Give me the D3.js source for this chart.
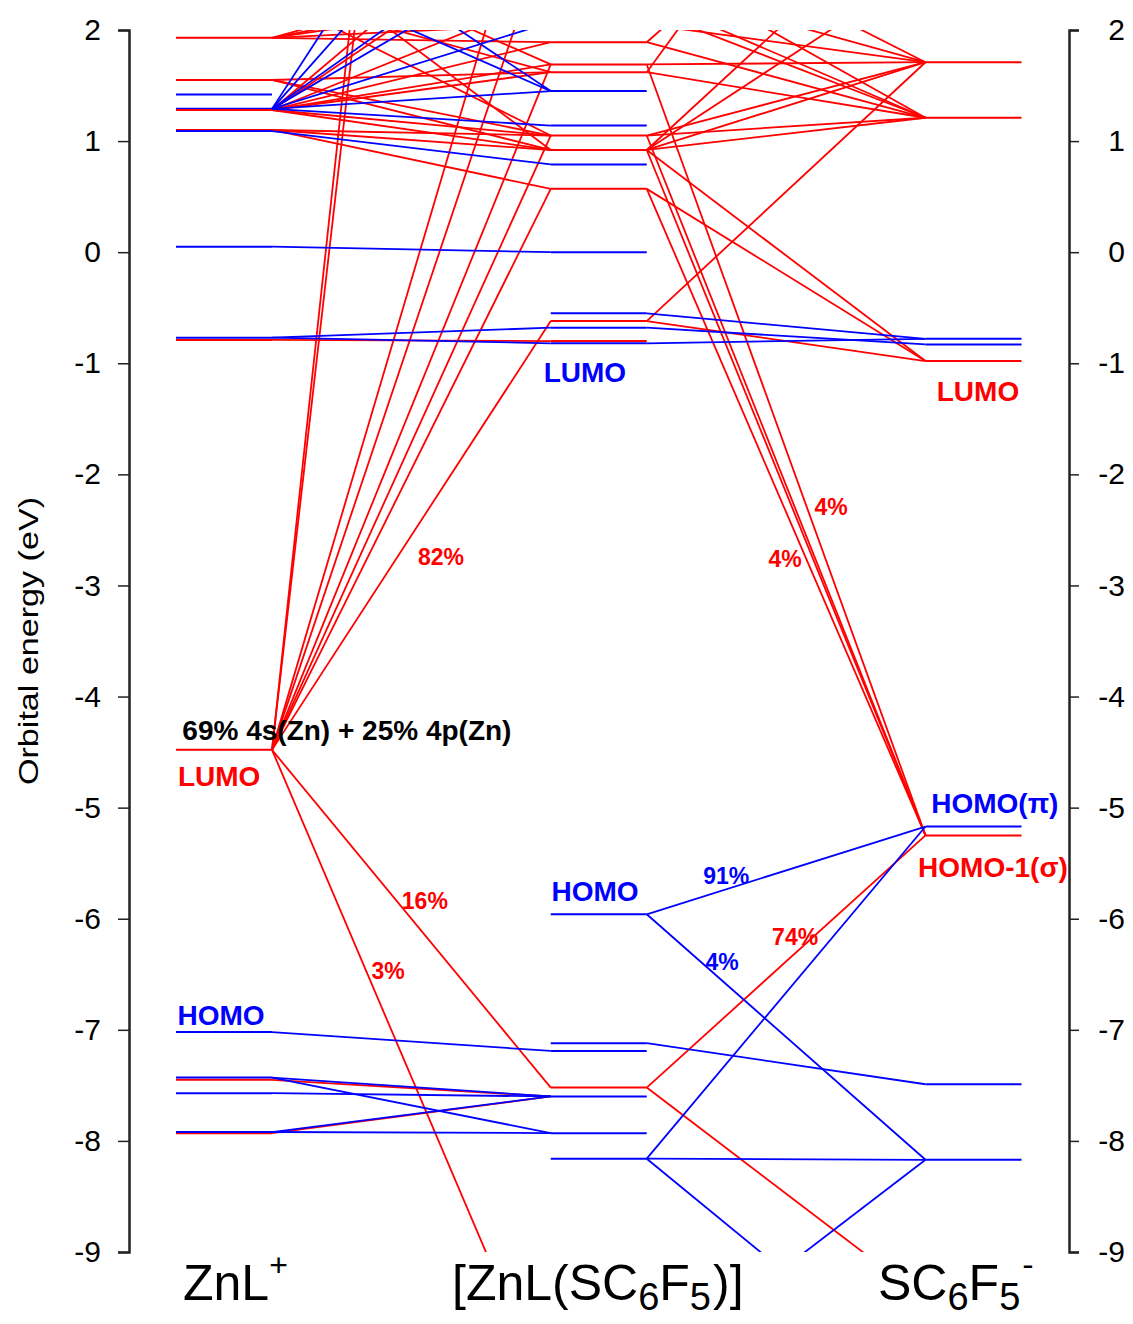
<!DOCTYPE html>
<html>
<head>
<meta charset="utf-8">
<script src="https://cdn.jsdelivr.net/npm/d3@7"></script>
<style>
  body { margin: 0; background: #fff; }
  svg { display: block; font-family: "Liberation Sans", Arial, sans-serif; }
</style>
</head>
<body>
<svg id="chart" width="1133" height="1324"></svg>
<script>
// energy levels (eV), R = red set, B = blue set; values outside [-9, 2] are cut off by the frame
const levelsZnL = [
  [1.93, 'R'], [1.55, 'R'], [1.42, 'B'], [1.29, 'B'], [1.28, 'R'], [1.10, 'R'], [1.09, 'B'],
  [0.05, 'B'], [-0.77, 'B'], [-0.79, 'R'], [-4.48, 'R'], [-7.02, 'B'], [-7.45, 'R'],
  [-7.43, 'B'], [-7.57, 'B'], [-7.93, 'R'], [-7.92, 'B'], [2.55, 'B'], [3.13, 'B'],
  [2.30, 'R'], [2.80, 'R']
];
const levelsComplex = [
  [1.89, 'R'], [1.69, 'R'], [1.62, 'R'], [1.45, 'B'], [1.14, 'B'], [1.05, 'R'], [0.92, 'R'],
  [0.79, 'B'], [0.57, 'R'], [0.00, 'B'], [-0.55, 'B'], [-0.62, 'R'], [-0.68, 'B'],
  [-0.80, 'R'], [-0.82, 'B'], [-5.96, 'B'], [-7.12, 'B'], [-7.19, 'B'], [-7.52, 'R'],
  [-7.60, 'B'], [-7.93, 'B'], [-8.16, 'B'], [-10.37, 'R'], [-10.09, 'B'], [2.29, 'R'],
  [2.98, 'R'], [3.98, 'R'], [17.4, 'R'], [18.8, 'R'], [2.18, 'R'], [2.05, 'R'], [2.07, 'B'],
  [2.76, 'B'], [3.07, 'B'], [4.11, 'B'], [5.15, 'B'], [2.41, 'R'], [2.62, 'R'], [3.40, 'R']
];
const levelsThiolate = [
  [1.71, 'R'], [1.21, 'R'], [-0.78, 'B'], [-0.83, 'B'], [-0.98, 'R'], [-5.17, 'B'],
  [-5.25, 'R'], [-7.49, 'B'], [-8.17, 'B'], [-9.43, 'R'], [-10.22, 'B'], [5.06, 'R'],
  [3.23, 'R'], [2.56, 'R'], [4.10, 'R']
];

// correlation lines: [level index in left column, level index in right column, set]
const linksZnLComplex = [
  [0, 30, 'R'], [0, 36, 'R'], [0, 37, 'R'], [0, 0, 'R'], [0, 24, 'R'],
  [4, 1, 'R'], [4, 2, 'R'], [4, 5, 'R'], [4, 6, 'R'], [4, 0, 'R'], [4, 25, 'R'], [4, 24, 'R'], [4, 38, 'R'],
  [1, 5, 'R'], [1, 6, 'R'], [1, 2, 'R'],
  [5, 5, 'R'], [5, 6, 'R'], [5, 8, 'R'],
  [9, 13, 'R'],
  [10, 27, 'R'], [10, 28, 'R'], [10, 26, 'R'], [10, 25, 'R'], [10, 1, 'R'], [10, 5, 'R'],
  [10, 8, 'R'], [10, 11, 'R'], [10, 18, 'R'], [10, 22, 'R'],
  [19, 2, 'R'], [19, 5, 'R'], [20, 1, 'R'], [20, 6, 'R'],
  [12, 19, 'R'], [15, 19, 'R'],
  [3, 3, 'B'], [3, 4, 'B'], [3, 31, 'B'], [3, 32, 'B'], [3, 33, 'B'], [3, 34, 'B'], [3, 35, 'B'],
  [6, 7, 'B'], [7, 9, 'B'], [8, 12, 'B'], [8, 14, 'B'], [17, 3, 'B'], [18, 3, 'B'],
  [11, 17, 'B'], [13, 19, 'B'], [13, 20, 'B'], [14, 19, 'B'], [16, 19, 'B'], [16, 20, 'B']
];
const linksComplexThiolate = [
  [1, 0, 'R'], [1, 6, 'R'], [2, 1, 'R'], [2, 11, 'R'],
  [5, 0, 'R'], [5, 1, 'R'], [5, 6, 'R'],
  [6, 0, 'R'], [6, 1, 'R'], [6, 4, 'R'], [6, 12, 'R'], [6, 13, 'R'], [6, 6, 'R'],
  [8, 4, 'R'], [8, 6, 'R'], [11, 0, 'R'], [11, 4, 'R'], [18, 6, 'R'], [18, 9, 'R'],
  [30, 0, 'R'], [29, 1, 'R'], [24, 1, 'R'], [36, 0, 'R'], [25, 0, 'R'], [37, 1, 'R'],
  [0, 1, 'R'], [0, 14, 'R'],
  [10, 2, 'B'], [12, 3, 'B'], [14, 2, 'B'],
  [15, 5, 'B'], [15, 8, 'B'], [16, 7, 'B'],
  [21, 5, 'B'], [21, 8, 'B'], [21, 10, 'B'], [23, 8, 'B']
];

const yTicks = [2, 1, 0, -1, -2, -3, -4, -5, -6, -7, -8, -9];

// annotations: [text, set, column position, energy]
const orbitalLabels = [
  ['LUMO', 'R', -0.013, -4.71], ['HOMO', 'B', -0.008, -6.87],
  ['LUMO', 'B', 0.963, -1.08], ['HOMO', 'B', 0.99, -5.75],
  ['LUMO', 'R', 2.012, -1.25], ['HOMO(π)', 'B', 2.057, -4.96], ['HOMO-1(σ)', 'R', 2.052, -5.53],
  ['69% 4s(Zn) + 25% 4p(Zn)', 'K', 0.328, -4.30]
];
const percentLabels = [
  ['82%', 'R', 0.579, -2.74], ['16%', 'R', 0.536, -5.84], ['3%', 'R', 0.438, -6.47],
  ['91%', 'B', 1.34, -5.61], ['4%', 'B', 1.329, -6.39], ['74%', 'R', 1.524, -6.16],
  ['4%', 'R', 1.497, -2.76], ['4%', 'R', 1.62, -2.29]
];

const svg = d3.select('#chart');
const frame = { left: 129, right: 1069, top: 30, bottom: 1252 };
const halfW = 48;

const y = d3.scaleLinear().domain([-9, 2]).range([frame.bottom, frame.top]);
const x = d3.scaleLinear().domain([0, 2]).range([224, 973.5]);
const color = d3.scaleOrdinal(['R', 'B', 'K'], ['#ff0000', '#0000ff', '#000000']);

const columns = [levelsZnL, levelsComplex, levelsThiolate];

svg.append('clipPath').attr('id', 'plot-clip')
  .append('rect')
  .attr('x', frame.left).attr('y', frame.top)
  .attr('width', frame.right - frame.left).attr('height', frame.bottom - frame.top);

const plot = svg.append('g').attr('clip-path', 'url(#plot-clip)');

// links between neighbouring columns
const linkRows = [];
[linksZnLComplex, linksComplexThiolate].forEach((list, c) => {
  list.forEach(([i, j, k]) => linkRows.push({
    x1: x(c) + halfW, y1: y(columns[c][i][0]),
    x2: x(c + 1) - halfW, y2: y(columns[c + 1][j][0]), k
  }));
});
plot.append('g')
  .selectAll('line')
  .data(linkRows)
  .join('line')
    .attr('x1', d => d.x1).attr('y1', d => d.y1)
    .attr('x2', d => d.x2).attr('y2', d => d.y2)
    .attr('stroke', d => color(d.k))
    .attr('stroke-width', 1.8);

// level bars
const levelRows = columns.flatMap((lv, c) => lv.map(([e, k]) => ({ c, e, k })));
plot.append('g')
  .selectAll('line')
  .data(levelRows)
  .join('line')
    .attr('x1', d => x(d.c) - halfW).attr('x2', d => x(d.c) + halfW)
    .attr('y1', d => y(d.e)).attr('y2', d => y(d.e))
    .attr('stroke', d => color(d.k))
    .attr('stroke-width', 2);

// axes
const fmt = d => d < 0 ? '-' + Math.abs(d) : String(d);
const axisStyle = g => g
  .call(g => g.select('.domain').attr('stroke', '#222').attr('stroke-width', 2.5))
  .call(g => g.selectAll('.tick line').attr('stroke', '#222').attr('stroke-width', 1.5))
  .call(g => g.selectAll('.tick text')
    .attr('font-family', '"Liberation Sans", Arial, sans-serif')
    .attr('font-size', 30).attr('fill', '#000'));

svg.append('g')
  .attr('transform', `translate(${frame.left},0)`)
  .call(d3.axisLeft(y).tickValues(yTicks).tickSize(11).tickPadding(17).tickFormat(fmt))
  .call(axisStyle);

svg.append('g')
  .attr('transform', `translate(${frame.right},0)`)
  .call(d3.axisRight(y).tickValues(yTicks).tickSize(10).tickFormat(fmt))
  .call(axisStyle)
  .call(g => g.selectAll('.tick text').attr('text-anchor', 'end').attr('x', 56));

svg.append('text')
  .attr('transform', 'translate(38,641) rotate(-90)')
  .attr('text-anchor', 'middle')
  .attr('font-size', 28)
  .attr('textLength', 288)
  .attr('lengthAdjust', 'spacingAndGlyphs')
  .text('Orbital energy (eV)');

// orbital annotations
svg.append('g')
  .selectAll('text')
  .data(orbitalLabels)
  .join('text')
    .attr('x', d => x(d[2])).attr('y', d => y(d[3]))
    .attr('dy', '0.36em')
    .attr('text-anchor', 'middle')
    .attr('font-size', 28).attr('font-weight', 'bold')
    .attr('fill', d => color(d[1]))
    .text(d => d[0]);

svg.append('g')
  .selectAll('text')
  .data(percentLabels)
  .join('text')
    .attr('x', d => x(d[2])).attr('y', d => y(d[3]))
    .attr('dy', '0.36em')
    .attr('text-anchor', 'middle')
    .attr('font-size', 23).attr('font-weight', 'bold')
    .attr('fill', d => color(d[1]))
    .text(d => d[0]);

// column names with sub/superscripts
const names = svg.append('g').attr('font-size', 50);
const base = 1300;

const t0 = names.append('text').attr('x', 183).attr('y', base);
t0.append('tspan').text('ZnL');
t0.append('tspan').attr('font-size', 32).attr('dy', -24).text('+');

const t1 = names.append('text').attr('x', 452).attr('y', base);
t1.append('tspan').text('[ZnL(SC');
t1.append('tspan').attr('font-size', 38).attr('dy', 10).text('6');
t1.append('tspan').attr('dy', -10).text('F');
t1.append('tspan').attr('font-size', 38).attr('dy', 10).text('5');
t1.append('tspan').attr('dy', -10).attr('dx', 2).text(')]');

const t2 = names.append('text').attr('x', 878).attr('y', base);
t2.append('tspan').text('SC');
t2.append('tspan').attr('font-size', 38).attr('dy', 10).text('6');
t2.append('tspan').attr('dy', -10).text('F');
t2.append('tspan').attr('font-size', 38).attr('dy', 10).text('5');
t2.append('tspan').attr('font-size', 34).attr('dy', -34).attr('dx', 2).text('-');
</script>
</body>
</html>
